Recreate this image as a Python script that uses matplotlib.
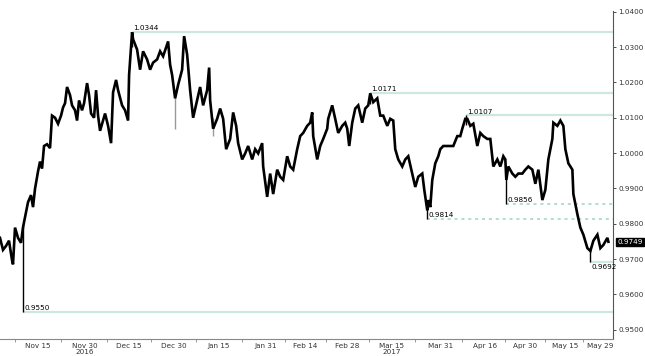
import matplotlib
matplotlib.use('Agg')
import matplotlib.pyplot as plt
from matplotlib.ticker import FixedLocator, FormatStrFormatter

plt.rcParams['font.family'] = ['DejaVu Sans']

# chart position (session index along the time axis) and price
t = [0, 3, 6, 9, 12, 13, 15, 18, 21, 23, 25, 28, 31, 33, 35, 38, 40, 42, 44, 47,
     50, 52, 55, 58, 61, 63, 65, 67, 70, 72, 75, 77, 79, 82, 84, 87, 89, 91, 94, 96,
     98, 100, 103, 105, 108, 111, 113, 116, 118, 122, 125, 128, 129, 132, 133, 137, 140, 143, 147, 150,
     153, 157, 160, 163, 168, 170, 172, 175, 178, 182, 184, 187, 190, 193, 197, 200, 203, 207, 209, 210,
     213, 217, 220, 223, 226, 230, 233, 236, 238, 242, 245, 248, 252, 255, 258, 262, 263, 267, 270, 273,
     277, 280, 283, 287, 290, 293, 297, 300, 303, 307, 310, 312, 313, 317, 320, 323, 327, 328, 332, 335,
     338, 342, 345, 347, 349, 352, 355, 358, 362, 365, 368, 370, 373, 377, 380, 383, 387, 390, 393, 395,
     398, 402, 405, 408, 412, 415, 418, 422, 424, 427, 428, 430, 432, 435, 438, 440, 443, 447, 450, 453,
     457, 460, 462, 465, 467, 470, 473, 477, 480, 483, 487, 490, 493, 497, 500, 503, 505, 506, 508, 512,
     515, 518, 522, 525, 528, 532, 535, 538, 542, 545, 548, 552, 553, 557, 560, 563, 565, 568, 572, 573,
     577, 580, 583, 587, 590, 593, 597, 600, 603, 607, 608]
price = [0.9760, 0.9726, 0.9737, 0.9752, 0.9697, 0.9685, 0.9789, 0.9760, 0.9746, 0.9790, 0.9818, 0.9861, 0.9881, 0.9847, 0.9899, 0.9948, 0.9976, 0.9956, 1.0020, 1.0025,
         1.0014, 1.0106, 1.0100, 1.0083, 1.0106, 1.0129, 1.0141, 1.0187, 1.0164, 1.0135, 1.0121, 1.0092, 1.0149, 1.0121, 1.0141, 1.0198, 1.0164, 1.0112, 1.0100, 1.0178,
         1.0106, 1.0063, 1.0092, 1.0112, 1.0077, 1.0028, 1.0172, 1.0207, 1.0178, 1.0135, 1.0121, 1.0092, 1.0221, 1.0342, 1.0322, 1.0293, 1.0236, 1.0288, 1.0265, 1.0236,
         1.0256, 1.0265, 1.0288, 1.0274, 1.0316, 1.0250, 1.0221, 1.0155, 1.0193, 1.0236, 1.0331, 1.0279, 1.0178, 1.0100, 1.0149, 1.0187, 1.0135, 1.0178, 1.0242, 1.0149,
         1.0069, 1.0097, 1.0126, 1.0097, 1.0011, 1.0040, 1.0115, 1.0077, 1.0028, 0.9982, 0.9999, 1.0020, 0.9982, 1.0011, 0.9999, 1.0028, 0.9962, 0.9876, 0.9942, 0.9884,
         0.9953, 0.9933, 0.9924, 0.9991, 0.9962, 0.9953, 1.0011, 1.0048, 1.0057, 1.0077, 1.0086, 1.0115, 1.0048, 0.9982, 1.0020, 1.0040, 1.0069, 1.0097, 1.0135, 1.0097,
         1.0057, 1.0077, 1.0086, 1.0069, 1.0020, 1.0086, 1.0126, 1.0135, 1.0086, 1.0126, 1.0135, 1.0169, 1.0144, 1.0155, 1.0106, 1.0106, 1.0077, 1.0097, 1.0092, 1.0011,
         0.9982, 0.9962, 0.9982, 0.9991, 0.9942, 0.9904, 0.9933, 0.9942, 0.9896, 0.9838, 0.9867, 0.9847, 0.9924, 0.9971, 0.9991, 1.0011, 1.0020, 1.0020, 1.0020, 1.0020,
         1.0048, 1.0048, 1.0069, 1.0097, 1.0097, 1.0077, 1.0083, 1.0020, 1.0057, 1.0048, 1.0040, 1.0040, 0.9962, 0.9982, 0.9962, 0.9991, 0.9982, 0.9924, 0.9962, 0.9942,
         0.9933, 0.9942, 0.9942, 0.9953, 0.9962, 0.9953, 0.9913, 0.9953, 0.9867, 0.9896, 0.9982, 1.0040, 1.0086, 1.0077, 1.0092, 1.0077, 1.0011, 0.9971, 0.9953, 0.9884,
         0.9827, 0.9789, 0.9769, 0.9731, 0.9723, 0.9752, 0.9769, 0.9731, 0.9740, 0.9760, 0.9749]

# intraday wicks
spike_t = [23, 132, 175, 213, 370, 427, 466, 506, 590]
spike_lo = [0.9550, 1.0300, 1.0069, 1.0048, 1.0140, 0.9814, 1.0080, 0.9856, 0.9692]
spike_hi = [0.9800, 1.0344, 1.0160, 1.0100, 1.0171, 0.9850, 1.0107, 0.9930, 0.9730]
spike_col = ['black', 'black', '#9a9a9a', '#9a9a9a', 'black', 'black', 'black', 'black', 'black']

# support / resistance levels: (start position, level, style, label side)
lvl_t = [132, 370, 466, 23, 427, 506, 590]
lvl_val = [1.0344, 1.0171, 1.0107, 0.9550, 0.9814, 0.9856, 0.9692]
lvl_dashed = [False, False, False, False, True, True, False]
lvl_below = [False, False, False, False, False, False, True]

last_price = 0.9749

tick_pos = [38, 85, 129, 174, 218, 265, 305, 347, 391, 440, 485, 525, 565, 600]
tick_lab = ['Nov 15', 'Nov 30\n2016', 'Dec 15', 'Dec 30', 'Jan 15', 'Jan 31', 'Feb 14',
            'Feb 28', 'Mar 15\n2017', 'Mar 31', 'Apr 16', 'Apr 30', 'May 15', 'May 29']
minor_pos = [15, 61, 107, 151, 196, 242, 285, 326, 369, 415, 462, 505, 545, 583]

fig = plt.figure(figsize=(6.45, 3.56), dpi=100)
ax = fig.add_axes([0.0, 0.048, 0.951, 0.921])
xmax = 613
ax.set_xlim(0, xmax)
ax.set_ylim(0.9474, 1.0402)

for x0, v, dashed, below in zip(lvl_t, lvl_val, lvl_dashed, lvl_below):
    if dashed:
        ax.hlines(v, x0, xmax, colors='#9fd3c2', linewidth=1.1, linestyles=(0, (2, 2.5)), zorder=1)
    else:
        ax.hlines(v, x0, xmax, colors='#cde8de', linewidth=1.6, zorder=1)
    if below:
        ax.text(x0 + 1, v - 0.0005, f'{v:.4f}', fontsize=5.2, va='top', ha='left', zorder=4)
    else:
        ax.text(x0 + 1, v + 0.0002, f'{v:.4f}', fontsize=5.2, va='bottom', ha='left', zorder=4)

ax.vlines(spike_t, spike_lo, spike_hi, colors=spike_col, linewidth=1.0, zorder=2)
ax.plot(t, price, color='black', linewidth=1.9, solid_joinstyle='miter', zorder=3)

# axes styling
for s in ['left', 'top']:
    ax.spines[s].set_visible(False)
ax.spines['right'].set_color('#555555')
ax.spines['right'].set_linewidth(0.8)
ax.spines['bottom'].set_color('#888888')
ax.spines['bottom'].set_linewidth(0.8)

ax.yaxis.tick_right()
ax.yaxis.set_major_locator(FixedLocator([0.95 + 0.01 * i for i in range(10)]))
ax.yaxis.set_major_formatter(FormatStrFormatter('%.4f'))
ax.tick_params(axis='y', labelsize=5.2, length=2.5, width=0.6, pad=1, colors='#333333')

ax.set_xticks(tick_pos)
ax.set_xticklabels(tick_lab, fontsize=5.2, linespacing=0.9)
ax.set_xticks(minor_pos, minor=True)
ax.tick_params(axis='x', which='major', length=0, pad=3, colors='#333333')
ax.tick_params(axis='x', which='minor', length=2.5, width=0.6, color='#888888')

ax.annotate(f'{last_price:.4f}', xy=(1.0, last_price), xycoords=('axes fraction', 'data'),
            xytext=(3, 0), textcoords='offset points', fontsize=5.2, color='white',
            va='center', ha='left',
            bbox=dict(boxstyle='square,pad=0.15', fc='black', ec='black'))

plt.savefig('out.png', dpi=100)
